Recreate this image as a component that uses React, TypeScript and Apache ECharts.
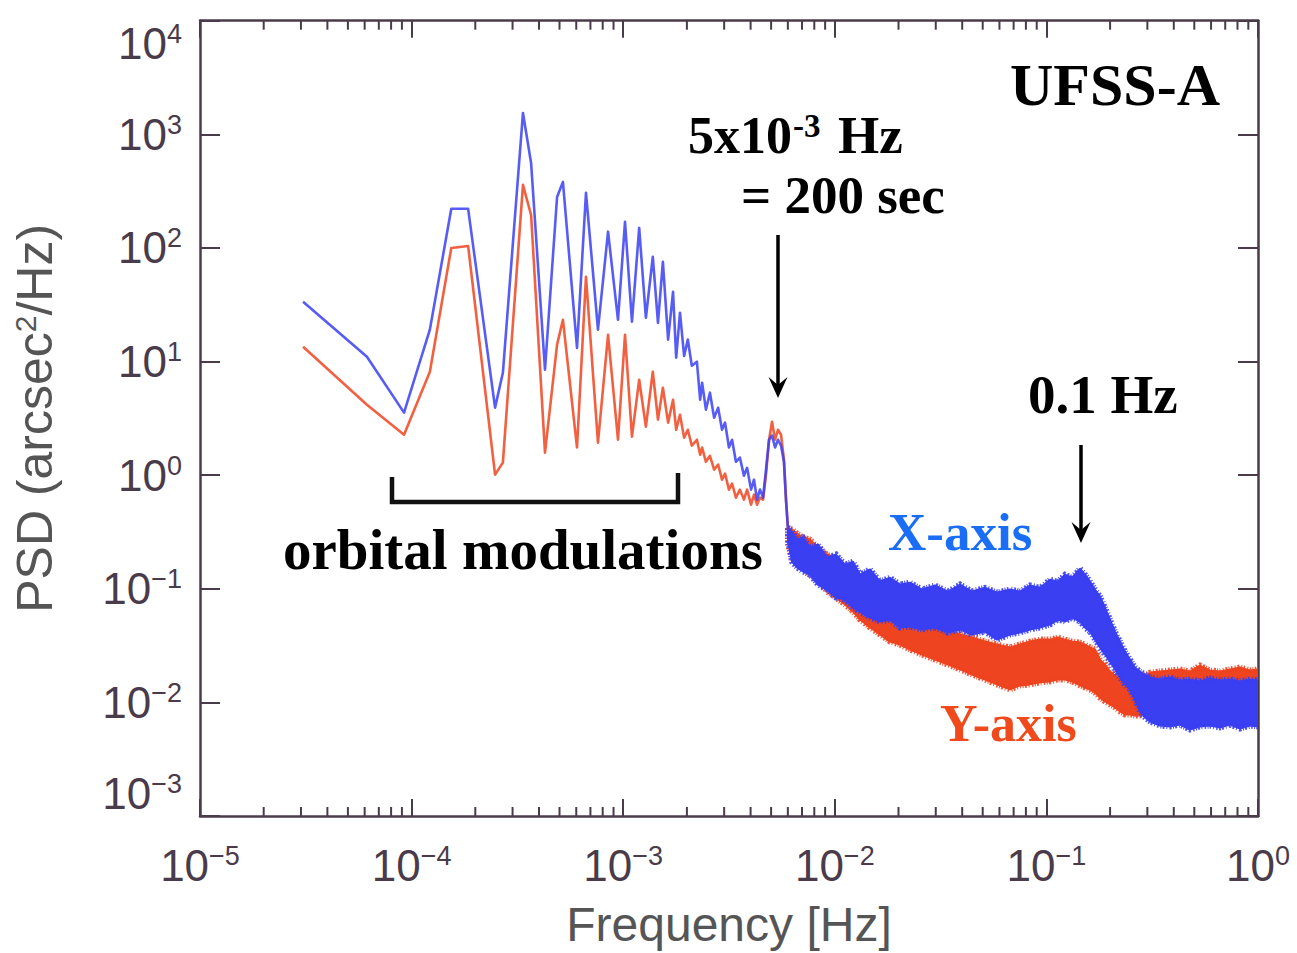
import React, { useEffect, useRef } from "react";
import * as echarts from "echarts";

// Low-frequency part of the PSD (clean traces, shared frequency grid) [Hz]
const freqLow = [
  3.07e-5, 6.15e-5, 9.21e-5, 1.22e-4, 1.54e-4, 1.85e-4, 2.48e-4, 2.7e-4, 3.36e-4, 3.67e-4,
  4.27e-4, 4.87e-4, 5.19e-4, 6.05e-4, 6.67e-4, 7.6e-4, 8.48e-4, 9.45e-4, 1.02e-3, 1.1e-3,
  1.19e-3, 1.28e-3, 1.38e-3, 1.46e-3, 1.54e-3, 1.63e-3, 1.72e-3, 1.78e-3, 1.855e-3, 1.94e-3,
  2.02e-3, 2.11e-3, 2.23e-3, 2.31e-3, 2.36e-3, 2.46e-3, 2.57e-3, 2.69e-3, 2.81e-3, 2.93e-3,
  3.03e-3, 3.16e-3, 3.27e-3, 3.41e-3, 3.56e-3, 3.72e-3, 3.85e-3, 4.02e-3, 4.15e-3, 4.29e-3,
  4.43e-3, 4.58e-3, 4.73e-3, 4.89e-3, 5.05e-3, 5.22e-3, 5.39e-3, 5.57e-3, 5.75e-3, 5.88e-3,
  6.01e-3,
];
// X-axis PSD [arcsec^2/Hz]
const psdXLow = [
  33.6, 11.0, 3.55, 19.1, 221, 221, 3.93, 7.96, 1542, 560,
  8.47, 281, 381, 13.2, 305, 19.1, 139, 23.3, 170, 22.4,
  150, 24.3, 83.5, 21.9, 75.5, 15.6, 41.1, 10.8, 26.9, 11.2,
  15.6, 9.18, 9.96, 4.61, 6.51, 3.77, 5.32, 3.2, 3.93, 2.51,
  2.9, 1.75, 2.05, 1.31, 1.43, 0.99, 1.16, 0.746, 0.913, 0.609,
  0.746, 0.634, 1.12, 2.05, 2.23, 1.75, 2.05, 1.82, 1.31, 0.609,
  0.332,
];
// Y-axis PSD [arcsec^2/Hz]
const psdYLow = [
  13.5, 4.17, 2.27, 8.13, 100, 104, 1.01, 1.29, 359, 195,
  1.58, 14.1, 23.3, 1.75, 55.7, 1.93, 17.2, 2.05, 17.2, 2.18,
  6.92, 2.67, 8.13, 3.08, 5.88, 2.9, 4.61, 2.51, 3.4, 2.14,
  2.51, 1.82, 2.05, 1.51, 1.75, 1.31, 1.48, 1.12, 1.24, 0.913,
  1.03, 0.746, 0.842, 0.634, 0.746, 0.609, 0.746, 0.55, 0.674, 0.55,
  0.634, 0.609, 1.01, 2.05, 2.95, 2.05, 2.51, 2.27, 1.37, 0.609,
  0.332,
];

// High-frequency part: noise band envelopes (upper / lower) [Hz]
const freqHigh = [
  6.01e-3, 6.28e-3, 6.63e-3, 7.07e-3, 7.63e-3, 8.33e-3, 9.19e-3, 1.013e-2, 1.117e-2, 1.219e-2,
  1.315e-2, 1.467e-2, 1.635e-2, 1.823e-2, 2.033e-2, 2.266e-2, 2.583e-2, 2.975e-2, 3.43e-2, 3.91e-2,
  4.45e-2, 5.13e-2, 5.84e-2, 6.73e-2, 7.5e-2, 8.37e-2, 9.33e-2, 0.104, 0.1134, 0.1224,
  0.1321, 0.1442, 0.1522, 0.1607, 0.1697, 0.1792, 0.1892, 0.1998, 0.211, 0.2228,
  0.2352, 0.2484, 0.2623, 0.2769, 0.2924, 0.3088, 0.3442, 0.3837, 0.4279, 0.4771,
  0.532, 0.593, 0.661, 0.737, 0.822, 0.917, 1.0,
];
const psdXHigh = [
  0.345, 0.318, 0.271, 0.282, 0.23, 0.245, 0.188, 0.2, 0.163, 0.173,
  0.133, 0.148, 0.116, 0.125, 0.109, 0.113, 0.0984, 0.107, 0.0945, 0.109,
  0.0945, 0.102, 0.0926, 0.0984, 0.0945, 0.107, 0.102, 0.12, 0.116, 0.133,
  0.125, 0.15, 0.133, 0.116, 0.0984, 0.0854, 0.0684, 0.0536, 0.042, 0.0343,
  0.028, 0.0238, 0.0203, 0.0187, 0.0176, 0.0166, 0.0159, 0.0166, 0.0156, 0.0159,
  0.0153, 0.0162, 0.0156, 0.0159, 0.0153, 0.0159, 0.0156,
];
const psdXLowEdge = [
  0.271, 0.173, 0.154, 0.142, 0.133, 0.109, 0.0984, 0.0837, 0.0804, 0.0684,
  0.063, 0.0558, 0.0515, 0.0536, 0.0456, 0.0465, 0.0438, 0.0456, 0.0412, 0.0438,
  0.0396, 0.042, 0.0357, 0.0396, 0.0412, 0.0438, 0.0456, 0.0484, 0.0536, 0.0515,
  0.0558, 0.0515, 0.0456, 0.042, 0.0357, 0.0304, 0.0264, 0.0229, 0.0195, 0.0166,
  0.0144, 0.013, 0.0106, 0.00832, 0.00736, 0.00679, 0.00626, 0.00614, 0.00639, 0.00577,
  0.00614, 0.00626, 0.00601, 0.00639, 0.00589, 0.00626, 0.00614,
];
const psdYHigh = [
  0.345, 0.332, 0.306, 0.282, 0.271, 0.23, 0.2, 0.181, 0.148, 0.133,
  0.109, 0.0945, 0.0804, 0.0726, 0.0656, 0.0593, 0.0536, 0.0484, 0.0438, 0.0396,
  0.0372, 0.0343, 0.0323, 0.0304, 0.0323, 0.0343, 0.0357, 0.0357, 0.0372, 0.0357,
  0.0343, 0.0336, 0.0323, 0.0304, 0.0292, 0.0238, 0.0215, 0.0187, 0.0172, 0.0159,
  0.0153, 0.0153, 0.0159, 0.0166, 0.0172, 0.0183, 0.0187, 0.0191, 0.0195, 0.0187,
  0.0211, 0.0191, 0.0187, 0.0195, 0.0203, 0.0191, 0.0195,
];
const psdYLowEdge = [
  0.245, 0.188, 0.163, 0.154, 0.133, 0.116, 0.0945, 0.0837, 0.0726, 0.063,
  0.0536, 0.0456, 0.0396, 0.0343, 0.0323, 0.0292, 0.0264, 0.0238, 0.0215, 0.0195,
  0.0176, 0.0159, 0.0144, 0.013, 0.0141, 0.0144, 0.015, 0.0153, 0.0159, 0.0159,
  0.0153, 0.0141, 0.0135, 0.013, 0.0122, 0.011, 0.0102, 0.00958, 0.00902, 0.00832,
  0.00783, 0.00783, 0.00767, 0.00767, 0.00799, 0.00832, 0.00866, 0.00884, 0.00866, 0.00866,
  0.00902, 0.00866, 0.00902, 0.00866, 0.00884, 0.00866, 0.00866,
];

// Axis ranges and minor tick positions on the frequency axis
const X_MIN = 1e-5;
const X_MAX = 1;
const Y_MIN = 1e-3;
const Y_MAX = 1e4;
const freqMinorTicks = [
  2e-5, 3e-5, 4e-5, 5e-5, 6e-5, 7e-5, 8e-5, 9e-5,
  2e-4, 3e-4, 4e-4, 5e-4, 6e-4, 7e-4, 8e-4, 9e-4,
  2e-3, 3e-3, 4e-3, 5e-3, 6e-3, 7e-3, 8e-3, 9e-3,
  2e-2, 3e-2, 4e-2, 5e-2, 6e-2, 7e-2, 8e-2, 9e-2,
  0.2, 0.3, 0.4, 0.5, 0.6, 0.7, 0.8, 0.9,
];

const BLUE = "#3a3ff2";
const RED = "#ee4420";
const AXIS = "#4a3b4a";
const LABEL = "#4a3b4a";
const NAME = "#555555";
const SANS = '"Liberation Sans", Arial, sans-serif';
const SERIF = '"Liberation Serif", "Times New Roman", serif';

const powerLabel = (v: number) => {
  const e = Math.round(Math.log10(v));
  const sup = e < 0 ? "\u2212" + -e : String(e);
  return "{b|10}{s|" + sup + "}";
};

const labelRich = {
  b: { fontSize: 44, fontFamily: SANS, color: LABEL, lineHeight: 46 },
  s: { fontSize: 27, fontFamily: SANS, color: LABEL, verticalAlign: "top", lineHeight: 18 },
};

function bandSeries(name: string, color: string, freq: number[], upper: number[], lower: number[]) {
  return {
    type: "custom",
    name,
    silent: true,
    clip: true,
    data: freq.map((f, i) => [f, upper[i], lower[i]]),
    encode: { x: 0, y: [1, 2] },
    renderItem: (params: any, api: any) => {
      if (params.dataIndex !== 0) return null;
      const pts: number[][] = [];
      for (let i = 0; i < freq.length; i++) pts.push(api.coord([freq[i], upper[i]]));
      for (let i = freq.length - 1; i >= 0; i--) pts.push(api.coord([freq[i], lower[i]]));
      return {
        type: "group",
        children: [
          {
            type: "polygon",
            shape: { points: pts },
            style: { fill: color, stroke: color, lineWidth: 2, lineJoin: "round" },
          },
          {
            // fuzzy edge of the noise band
            type: "polygon",
            shape: { points: pts },
            style: {
              fill: null,
              stroke: color,
              lineWidth: 6,
              lineDash: [1, 1.4, 1.6, 2.2, 1, 1.8, 2, 1.2],
              opacity: 0.9,
            },
          },
        ],
      };
    },
  };
}

function lineSeries(name: string, color: string, freq: number[], psd: number[]) {
  return {
    type: "line",
    name,
    silent: true,
    showSymbol: false,
    data: freq.map((f, i) => [f, psd[i]]),
    lineStyle: { color, width: 2.6, opacity: 0.85, join: "round" },
    itemStyle: { color },
  };
}

const minorTickSeries = {
  type: "custom",
  silent: true,
  data: freqMinorTicks.map((f) => [f, 1]),
  renderItem: (_params: any, api: any) => {
    const f = api.value(0);
    const b = api.coord([f, Y_MIN]);
    const t = api.coord([f, Y_MAX]);
    const st = { stroke: AXIS, lineWidth: 2 };
    return {
      type: "group",
      children: [
        { type: "line", shape: { x1: b[0], y1: b[1], x2: b[0], y2: b[1] - 9 }, style: st },
        { type: "line", shape: { x1: t[0], y1: t[1], x2: t[0], y2: t[1] + 9 }, style: st },
      ],
    };
  },
};

function serifText(text: string, x: number, y: number, size: number, fill = "#000", align = "left") {
  return {
    type: "text",
    silent: true,
    style: {
      text,
      x,
      y,
      fill,
      align,
      verticalAlign: "middle",
      lineHeight: Math.round(size * 0.8),
      font: `bold ${size}px ${SERIF}`,
    },
  };
}

function arrow(x: number, yTop: number, yTip: number) {
  return [
    {
      type: "line",
      silent: true,
      shape: { x1: x, y1: yTop, x2: x, y2: yTip - 10 },
      style: { stroke: "#000", lineWidth: 3.5 },
    },
    {
      type: "polygon",
      silent: true,
      shape: {
        points: [
          [x, yTip],
          [x - 9.5, yTip - 21],
          [x, yTip - 13],
          [x + 9.5, yTip - 21],
        ],
      },
      style: { fill: "#000" },
    },
  ];
}

export default function App() {
  const ref = useRef<HTMLDivElement>(null);

  useEffect(() => {
    if (!ref.current) return;
    const chart = echarts.init(ref.current, null, { renderer: "svg" });

    const axisCommonX = {
      type: "log",
      logBase: 10,
      min: X_MIN,
      max: X_MAX,
      splitNumber: 5,
      axisLine: { show: true, onZero: false, lineStyle: { color: AXIS, width: 2.5 } },
      axisTick: { show: true, inside: true, length: 17, lineStyle: { color: AXIS, width: 2 } },
      splitLine: { show: false },
      minorTick: { show: false },
    };
    const axisCommonY = {
      type: "log",
      logBase: 10,
      min: Y_MIN,
      max: Y_MAX,
      splitNumber: 7,
      axisLine: { show: true, onZero: false, lineStyle: { color: AXIS, width: 2.5 } },
      axisTick: { show: true, inside: true, length: 20, lineStyle: { color: AXIS, width: 2 } },
      splitLine: { show: false },
    };

    chart.setOption({
      animation: false,
      backgroundColor: "#ffffff",
      grid: { left: 200, right: 39, top: 20.7, bottom: 136.3, containLabel: false },
      xAxis: [
        {
          ...axisCommonX,
          position: "bottom",
          axisLabel: {
            show: true,
            margin: 26,
            formatter: powerLabel,
            rich: labelRich,
          },
          name: "Frequency [Hz]",
          nameLocation: "middle",
          nameGap: 84,
          nameTextStyle: { fontFamily: SANS, fontSize: 48, color: NAME },
        },
        { ...axisCommonX, position: "top", axisLabel: { show: false } },
      ],
      yAxis: [
        {
          ...axisCommonY,
          position: "left",
          axisLabel: {
            show: true,
            margin: 18,
            formatter: powerLabel,
            rich: labelRich,
            verticalAlignMinLabel: "bottom",
            verticalAlignMaxLabel: "top",
          },
          name: "{a|PSD (arcsec}{s|2}{a|/Hz)}",
          nameLocation: "middle",
          nameGap: 140,
          nameRotate: 90,
          nameTextStyle: {
            rich: {
              a: { fontFamily: SANS, fontSize: 50, color: NAME },
              s: { fontFamily: SANS, fontSize: 30, color: NAME, verticalAlign: "top" },
            },
          },
        },
        { ...axisCommonY, position: "right", axisLabel: { show: false } },
      ],
      series: [
        minorTickSeries,
        lineSeries("Y-axis", RED, freqLow, psdYLow),
        bandSeries("Y-axis band", RED, freqHigh, psdYHigh, psdYLowEdge),
        lineSeries("X-axis", BLUE, freqLow, psdXLow),
        bandSeries("X-axis band", BLUE, freqHigh, psdXHigh, psdXLowEdge),
      ],
      graphic: [
        serifText("UFSS-A", 1220, 85, 60, "#000", "right"),
        serifText("5x10", 688, 135, 52),
        serifText("-3", 793, 126, 33),
        serifText("Hz", 838, 135, 53),
        serifText("= 200 sec", 741, 195, 53),
        serifText("0.1 Hz", 1028, 394, 55),
        serifText("orbital modulations", 283, 549, 57),
        serifText("X-axis", 888, 532, 53, "#1a6ef5"),
        serifText("Y-axis", 940, 723, 52, "#f04a1c"),
        ...arrow(778, 235, 398),
        ...arrow(1081, 445, 543),
        {
          type: "polyline",
          silent: true,
          shape: { points: [[392, 477], [392, 502], [678, 502], [678, 473]] },
          style: { stroke: "#111", lineWidth: 4.5, fill: null },
        },
      ],
    });

    return () => chart.dispose();
  }, []);

  return (
    <div
      ref={ref}
      style={{ position: "absolute", left: 0, top: 0, width: 1297, height: 953, background: "#fff" }}
    />
  );
}
